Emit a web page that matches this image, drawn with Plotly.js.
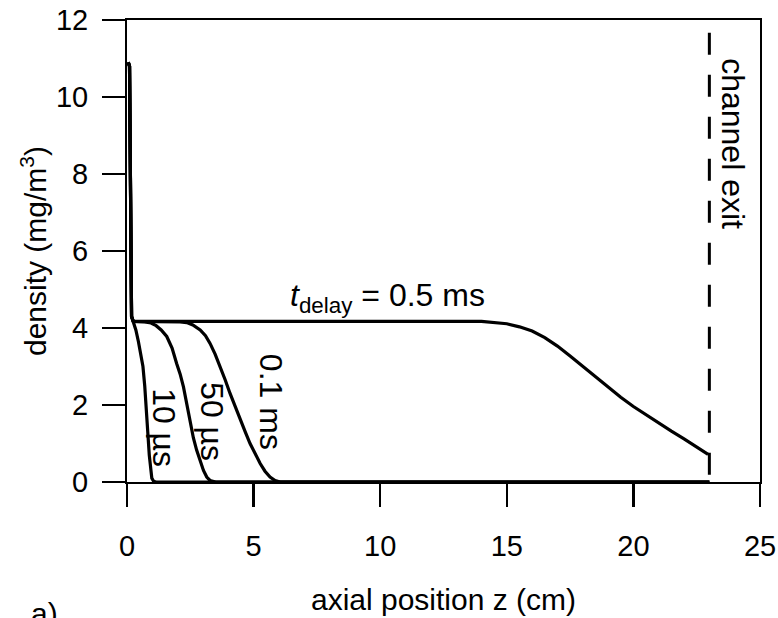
<!DOCTYPE html>
<html>
<head>
<meta charset="utf-8">
<script src="https://cdn.plot.ly/plotly-3.0.1.min.js"></script>
<style>html,body{margin:0;padding:0;background:#fff;}#chart{width:778px;height:618px;}</style>
</head>
<body>
<div id="chart"></div>
<script>
// Data (z in cm, density in mg/m^3)
const z10us = [0.05, 0.1, 0.18, 0.25, 0.35, 0.45, 0.55, 0.63, 0.7, 0.76, 0.82, 0.88, 0.93, 0.98, 1.05, 1.15, 23];
const d10us = [10.9, 10.8, 4.3, 4.15, 3.95, 3.65, 3.3, 3.0, 2.5, 2.0, 1.3, 0.7, 0.3, 0.1, 0.02, 0, 0];

const z50us = [0.05, 0.1, 0.18, 0.25, 0.7, 0.95, 1.15, 1.35, 1.57, 1.78, 1.96, 2.1, 2.23, 2.36, 2.49, 2.62, 2.75, 2.88, 3.02, 3.15, 3.28, 3.5, 23];
const d50us = [10.9, 10.8, 4.3, 4.17, 4.16, 4.13, 4.06, 3.95, 3.78, 3.48, 3.08, 2.8, 2.47, 2.0, 1.52, 1.15, 0.83, 0.55, 0.3, 0.13, 0.04, 0, 0];

const z01ms = [0.05, 0.1, 0.18, 0.25, 2.1, 2.36, 2.6, 2.89, 3.1, 3.28, 3.48, 3.68, 3.88, 4.07, 4.27, 4.47, 4.67, 4.86, 5.06, 5.26, 5.45, 5.65, 5.85, 6.05, 23];
const d01ms = [10.9, 10.8, 4.3, 4.17, 4.16, 4.14, 4.08, 3.95, 3.8, 3.6, 3.32, 3.0, 2.65, 2.3, 1.95, 1.61, 1.3, 1.0, 0.72, 0.48, 0.28, 0.13, 0.04, 0, 0];

const z05ms = [0.05, 0.1, 0.18, 0.25, 14.0, 14.5, 15.0, 15.5, 16.0, 16.5, 17.0, 17.5, 18.0, 18.5, 19.0, 19.5, 20.0, 20.5, 21.0, 21.5, 22.0, 22.5, 22.95];
const d05ms = [10.9, 10.8, 4.3, 4.17, 4.17, 4.15, 4.11, 4.03, 3.92, 3.75, 3.53, 3.27, 3.0, 2.73, 2.46, 2.2, 1.96, 1.74, 1.53, 1.32, 1.12, 0.92, 0.72];

const channelExitZ = 23;
const channelExitTop = 11.67;
const xTicks = [0, 5, 10, 15, 20, 25];
const yTicks = [0, 2, 4, 6, 8, 10, 12];

const FONT = 'Liberation Sans, Arial, sans-serif';
function tr(x, y, name) {
  return {x: x, y: y, name: name, type: 'scatter', mode: 'lines',
          line: {color: '#000', width: 3.2, shape: 'linear'},
          showlegend: false, hoverinfo: 'skip'};
}
const data = [
  tr(z10us, d10us, '10 µs'),
  tr(z50us, d50us, '50 µs'),
  tr(z01ms, d01ms, '0.1 ms'),
  tr(z05ms, d05ms, '0.5 ms')
];

const axisCommon = {
  showgrid: false, zeroline: false, showline: true, mirror: true,
  linecolor: '#000', linewidth: 2, ticks: 'outside', ticklen: 23, tickwidth: 2.5,
  tickcolor: '#000', tickfont: {family: FONT, size: 29, color: '#000'}
};

const layout = {
  width: 778, height: 618,
  margin: {l: 127, r: 18, t: 20, b: 136, pad: 0},
  paper_bgcolor: '#fff', plot_bgcolor: '#fff',
  font: {family: FONT, color: '#000'},
  xaxis: Object.assign({}, axisCommon, {
    range: [0, 25], tickvals: xTicks, ticklabelstandoff: 14,
    title: {text: 'axial position z (cm)', font: {family: FONT, size: 30, color: '#000'}, standoff: 28}
  }),
  yaxis: Object.assign({}, axisCommon, {
    range: [0, 12], tickvals: yTicks, ticklabelstandoff: 8,
    title: {text: 'density (mg/m<sup>3</sup>)', font: {family: FONT, size: 30, color: '#000'}, standoff: 0}
  }),
  shapes: [{
    type: 'line', xref: 'x', yref: 'y', x0: channelExitZ, x1: channelExitZ,
    y0: channelExitTop, y1: 0, line: {color: '#000', width: 3, dash: '22px,20px'}
  }],
  annotations: [
    {x: 10.3, y: 4.2, xref: 'x', yref: 'y', text: '<i>t</i><sub>delay</sub> = 0.5 ms',
     showarrow: false, xanchor: 'center', yanchor: 'bottom', font: {family: FONT, size: 32, color: '#000'}},
    {x: 5.69, y: 2.08, xref: 'x', yref: 'y', text: '0.1 ms', textangle: 90,
     showarrow: false, font: {family: FONT, size: 32, color: '#000'}},
    {x: 3.36, y: 1.58, xref: 'x', yref: 'y', text: '50 µs', textangle: 90,
     showarrow: false, font: {family: FONT, size: 32, color: '#000'}},
    {x: 1.46, y: 1.4, xref: 'x', yref: 'y', text: '10 µs', textangle: 90,
     showarrow: false, font: {family: FONT, size: 32, color: '#000'}},
    {x: 23.95, y: 8.79, xref: 'x', yref: 'y', text: 'channel exit', textangle: 90,
     showarrow: false, font: {family: FONT, size: 32, color: '#000'}},
    {x: -0.155, y: -0.245, xref: 'paper', yref: 'paper', text: 'a)', xanchor: 'left', yanchor: 'top',
     showarrow: false, font: {family: FONT, size: 30, color: '#000'}}
  ]
};

Plotly.newPlot('chart', data, layout, {staticPlot: true, displayModeBar: false});
</script>
</body>
</html>
